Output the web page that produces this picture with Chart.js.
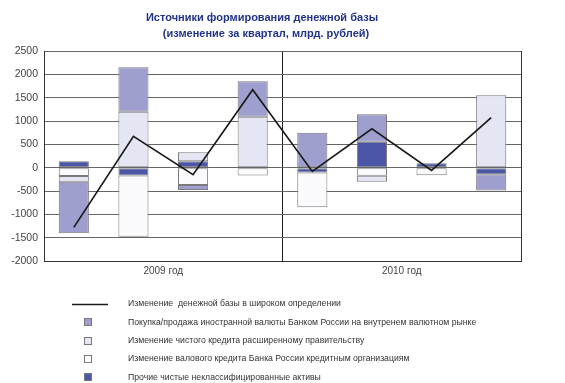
<!DOCTYPE html>
<html>
<head>
<meta charset="utf-8">
<script src="https://cdn.jsdelivr.net/npm/chart.js@4/dist/chart.umd.min.js"></script>
<style>
  html, body { margin: 0; padding: 0; background: #ffffff; }
  #wrap { width: 565px; height: 383px; position: relative; }
</style>
</head>
<body>
<div id="wrap"><canvas id="c" width="565" height="383"></canvas></div>
<script>
// ---- data ----
const categories = ['I кв. 2009', 'II кв. 2009', 'III кв. 2009', 'IV кв. 2009',
                    'I кв. 2010', 'II кв. 2010', 'III кв. 2010', 'IV кв. 2010'];
const yearLabels = ['2009 год', '2010 год'];
const titleLines = ['Источники формирования денежной базы', '(изменение за квартал, млрд. рублей)'];

const baseChange   = [-1280, 670, -150, 1670, -80, 835, -60, 1070];
const fxPurchases  = [-1105, 950, -110, 760, 750, 585, null, -350];
const govCredit    = [-120, 1200, 190, 1090, null, -125, null, 1550];
const bankCredit   = [-180, -1310, -370, -170, -745, -175, -160, null];
const otherAssets  = [140, -170, 140, null, -105, 557, 95, -140];

const names = {
  base:  'Изменение  денежной базы в широком определении',
  fx:    'Покупка/продажа иностранной валюты Банком России на внутренем валютном рынке',
  gov:   'Изменение чистого кредита расширенному правительству',
  bank:  'Изменение валового кредита Банка России кредитным организациям',
  other: 'Прочие чистые неклассифицированные активы'
};

const yMin = -2000, yMax = 2500, yStep = 500;

// ---- styles ----
const BAR_BORDER = '#7a7a7a';
const FONT = '"Liberation Sans", Arial, sans-serif';

const barDefaults = {
  type: 'bar', xAxisID: 'x', yAxisID: 'y',
  borderColor: BAR_BORDER, borderWidth: 1, borderSkipped: false,
  barPercentage: 1.0, categoryPercentage: 0.505
};

const titlePlugin = {
  id: 'customTitle',
  afterDraw(chart) {
    const ctx = chart.ctx;
    ctx.save();
    ctx.fillStyle = '#22338a';
    ctx.font = 'bold 11px ' + FONT;
    ctx.textAlign = 'center';
    ctx.textBaseline = 'alphabetic';
    ctx.fillText(titleLines[0], 262, 21);
    ctx.fillText(titleLines[1], 266, 36.5);
    ctx.restore();
  }
};

const legendPlugin = {
  id: 'customLegend',
  afterDraw(chart) {
    const ctx = chart.ctx;
    const order = [0, 4, 3, 2, 1];
    ctx.save();
    ctx.font = '8.7px ' + FONT;
    ctx.textBaseline = 'middle';
    ctx.textAlign = 'left';
    order.forEach((dsIndex, row) => {
      const ds = chart.data.datasets[dsIndex];
      const y = 304 + row * 18.3;
      if (ds.type === 'line') {
        ctx.strokeStyle = ds.borderColor;
        ctx.lineWidth = 1.5;
        ctx.beginPath();
        ctx.moveTo(72, Math.round(y) + 0.5);
        ctx.lineTo(108, Math.round(y) + 0.5);
        ctx.stroke();
      } else {
        ctx.fillStyle = ds.backgroundColor;
        ctx.fillRect(84.5, Math.round(y) - 3.5, 7, 7);
        ctx.strokeStyle = BAR_BORDER;
        ctx.lineWidth = 1;
        ctx.strokeRect(84.5, Math.round(y) - 3.5, 7, 7);
      }
      ctx.fillStyle = '#333333';
      ctx.fillText(ds.label, 128, y);
    });
    ctx.restore();
  }
};

new Chart(document.getElementById('c'), {
  data: {
    labels: categories,
    datasets: [
      { type: 'line', label: names.base, data: baseChange, xAxisID: 'x', yAxisID: 'y',
        borderColor: '#1a1a1a', borderWidth: 1.7, pointRadius: 0, tension: 0, fill: false },
      Object.assign({ label: names.other, data: otherAssets, backgroundColor: '#4b56a6' }, barDefaults),
      Object.assign({ label: names.bank,  data: bankCredit,  backgroundColor: '#fbfbfe' }, barDefaults),
      Object.assign({ label: names.gov,   data: govCredit,   backgroundColor: '#e4e6f3' }, barDefaults),
      Object.assign({ label: names.fx,    data: fxPurchases, backgroundColor: '#9e9ecf' }, barDefaults)
    ]
  },
  options: {
    responsive: false,
    animation: false,
    devicePixelRatio: 1,
    layout: { padding: { left: 0, right: 44, top: 51, bottom: 102 } },
    plugins: {
      legend: { display: false },
      title: { display: false },
      tooltip: { enabled: false }
    },
    scales: {
      x: {
        type: 'category', display: false, stacked: true, offset: true,
        grid: { display: false }
      },
      x2: {
        type: 'category', labels: yearLabels, position: 'bottom', offset: true,
        grid: {
          display: true, offset: true, drawTicks: false, lineWidth: 1,
          color: (c) => c.index === 1 ? '#1e1e1e' : (c.index === 2 ? '#9a9a9a' : '#333333')
        },
        border: { display: true, color: '#333333', width: 1 },
        ticks: { color: '#444444', font: { family: FONT, size: 10 }, padding: 4 },
        afterFit: (s) => { s.height = 20; }
      },
      y: {
        type: 'linear', stacked: true, min: yMin, max: yMax,
        grid: { color: '#666666', lineWidth: 1, drawTicks: false },
        border: { display: true, color: '#333333', width: 1 },
        ticks: { stepSize: yStep, color: '#444444', font: { family: FONT, size: 10.5 }, padding: 6,
                 callback: (v) => String(v) },
        afterFit: (s) => { s.width = 44; }
      }
    }
  },
  plugins: [titlePlugin, legendPlugin]
});
</script>
</body>
</html>
